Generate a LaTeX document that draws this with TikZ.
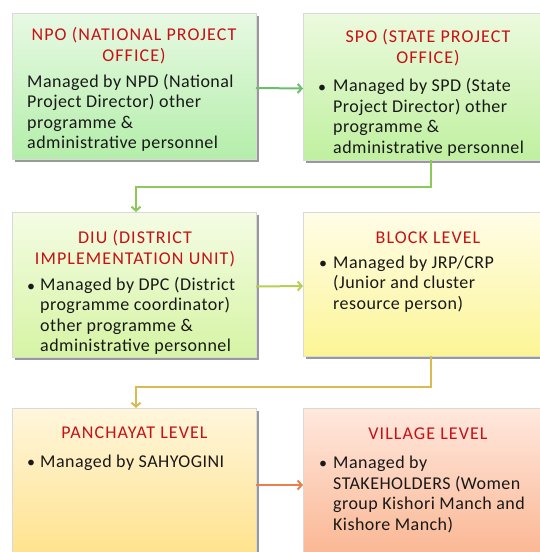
\documentclass[tikz,border=0pt]{standalone}
\usepackage{fontspec}
\setmainfont{Carlito}
\usetikzlibrary{arrows.meta,shadows}
\definecolor{tred}{RGB}{200,16,22}
\definecolor{txt}{RGB}{25,25,25}
\definecolor{npoT}{RGB}{232,249,228}
\definecolor{npoB}{RGB}{180,238,170}
\definecolor{spoT}{RGB}{236,250,222}
\definecolor{spoB}{RGB}{192,240,160}
\definecolor{diuT}{RGB}{244,252,228}
\definecolor{diuB}{RGB}{214,244,164}
\definecolor{blkT}{RGB}{255,253,232}
\definecolor{blkB}{RGB}{252,245,150}
\definecolor{panT}{RGB}{255,246,220}
\definecolor{panB}{RGB}{255,226,140}
\definecolor{vilT}{RGB}{255,232,222}
\definecolor{vilB}{RGB}{250,182,146}
\definecolor{cA}{RGB}{108,190,106}
\definecolor{cB}{RGB}{140,200,90}
\definecolor{cC}{RGB}{182,208,80}
\definecolor{cD}{RGB}{218,186,82}
\definecolor{cE}{RGB}{232,128,74}
\begin{document}
\begin{tikzpicture}[x=1pt,y=-1pt,
  box/.style={draw=black!15, line width=0.8pt, inner sep=0pt, outer sep=0pt, anchor=north west,
    drop shadow={shadow xshift=2.5pt, shadow yshift=-2.5pt, fill=black!40, opacity=1}},
  ttl/.style={text=tred, font=\fontsize{18}{21}\selectfont\addfontfeature{LetterSpace=6}, align=center, anchor=base, inner sep=0pt},
  body/.style={text=txt, font=\fontsize{18}{20.5}\selectfont\addfontfeature{LetterSpace=2.5}, align=left, anchor=base west, inner sep=0pt},
  bul/.style={text=txt, font=\fontsize{16}{20.5}\selectfont, anchor=base, inner sep=0pt},
  conn/.style={line width=2pt, -{Straight Barb[length=4pt,width=9pt]}}]
\useasboundingbox (0,0) rectangle (540,552);
\clip (0,0) rectangle (540,552);
% boxes
\node[box, top color=npoT, bottom color=npoB, minimum width=244pt, minimum height=146pt] (npo) at (12,13) {};
\node[box, top color=spoT, bottom color=spoB, minimum width=250pt, minimum height=147pt] (spo) at (303,13) {};
\node[box, top color=diuT, bottom color=diuB, minimum width=244pt, minimum height=145pt] (diu) at (12,212) {};
\node[box, top color=blkT, bottom color=blkB, minimum width=250pt, minimum height=144pt] (blk) at (303,212) {};
\node[box, top color=panT, bottom color=panB, minimum width=244pt, minimum height=150pt] (pan) at (12,408) {};
\node[box, top color=vilT, bottom color=vilB, minimum width=250pt, minimum height=150pt] (vil) at (303,408) {};
% titles (anchor = baseline of last line)
\node[ttl] (npot) at (134,61) {NPO (NATIONAL PROJECT\\OFFICE)};
\node[ttl] (spot) at (428,63) {SPO (STATE PROJECT\\OFFICE)};
\node[ttl] (diut) at (135,264) {DIU (DISTRICT\\IMPLEMENTATION UNIT)};
\node[ttl] (blkt) at (428,243) {BLOCK LEVEL};
\node[ttl] (pant) at (134.5,438) {PANCHAYAT LEVEL};
\node[ttl] (vilt) at (428,439) {VILLAGE LEVEL};
% bodies (anchor = baseline of last line)
\node[body] (npob) at (27,148.5) {Managed by NPD (National\\Project Director) other\\programme \&\\administrative personnel};
\node[bul] (spou) at (322,92) {•};
\node[body] (spob) at (333,153) {Managed by SPD (State\\Project Director) other\\programme \&\\administrative personnel};
\node[bul] (diuu) at (31,291) {•};
\node[body] (diub) at (40,351.5) {Managed by DPC (District\\programme coordinator)\\other programme \&\\administrative personnel};
\node[bul] (blku) at (323,268) {•};
\node[body] (blkb) at (333,309) {Managed by JRP/CRP\\(Junior and cluster\\resource person)};
\node[bul] (panu) at (31,467) {•};
\node[body] (panb) at (40,467) {Managed by SAHYOGINI};
\node[bul] (vilu) at (323,468) {•};
\node[body] (vilb) at (333,530) {Managed by\\STAKEHOLDERS (Women\\group Kishori Manch and\\Kishore Manch)};
% connectors
\draw[conn, cA] ([yshift=-2pt]npo.east) -- ([yshift=-2pt]spo.west);
\draw[conn, cB] ([xshift=3pt]spo.south) -- ++(0,27) -| ([xshift=2pt]diu.north);
\draw[conn, cC] ([yshift=-2pt]diu.east) -- ([yshift=-2pt]blk.west);
\draw[conn, cD] ([xshift=3pt]blk.south) -- ++(0,31) -| ([xshift=2pt]pan.north);
\draw[conn, cE] ([yshift=-2pt]pan.east) -- ([yshift=-2pt]vil.west);
\end{tikzpicture}
\end{document}
